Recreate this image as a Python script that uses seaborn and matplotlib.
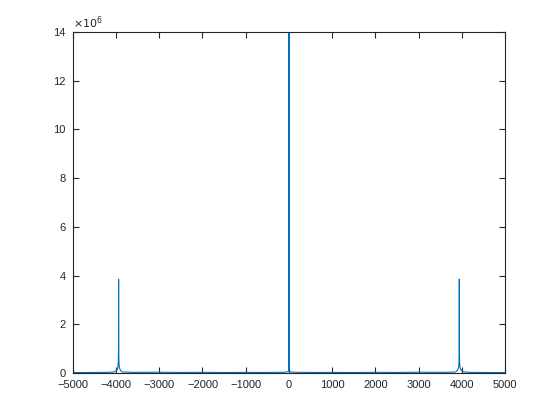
import matplotlib
matplotlib.use("Agg")
import matplotlib.pyplot as plt
import seaborn as sns
import pandas as pd
from matplotlib.ticker import FuncFormatter, MultipleLocator

# Spectrum values (frequency in Hz, magnitude)
freq = [-5000, -4500, -4200, -4050, -3990, -3965, -3955, -3948, -3943, -3940, -3937,
        -3932, -3925, -3915, -3890, -3850, -3600, -3000, -2500, -2000, -1500, -1000,
        -500, -100, -6, 0, 6, 100, 500, 1000, 1500, 2000, 2500, 3000, 3600, 3850,
        3890, 3915, 3925, 3932, 3937, 3940, 3943, 3948, 3955, 3965, 3990, 4050,
        4200, 4500, 5000]
mag = [15000, 20000, 25000, 40000, 90000, 180000, 260000, 420000, 900000, 3850000, 900000,
       420000, 260000, 180000, 90000, 40000, 25000, 30000, 20000, 25000, 18000, 22000,
       20000, 30000, 60000, 14000000, 60000, 30000, 20000, 22000, 18000, 25000, 20000, 30000, 25000, 40000,
       90000, 180000, 260000, 420000, 900000, 3850000, 900000, 420000, 260000, 180000, 90000, 40000,
       25000, 20000, 15000]

df = pd.DataFrame({"f": freq, "m": mag})

sns.set_style("white")
plt.rcParams["font.family"] = ["Liberation Sans", "DejaVu Sans"]

fig = plt.figure(figsize=(5.6, 4.2), dpi=100)
ax = fig.add_axes([0.13, 0.112, 0.772, 0.812])
sns.lineplot(data=df, x="f", y="m", ax=ax, color="#0072BD", linewidth=0.8)

ax.set_xlim(-5000, 5000)
ax.set_ylim(0, 14e6)
ax.xaxis.set_major_locator(MultipleLocator(1000))
ax.yaxis.set_major_locator(MultipleLocator(2e6))
ax.yaxis.set_major_formatter(FuncFormatter(lambda v, p: f"{v/1e6:g}"))
ax.set_xlabel("")
ax.set_ylabel("")

dark = "#262626"
for s in ax.spines.values():
    s.set_visible(True)
    s.set_color(dark)
    s.set_linewidth(0.8)
ax.tick_params(direction="in", length=4, width=0.8, colors=dark, labelsize=8,
               top=True, right=True, bottom=True, left=True)
ax.tick_params(axis="x", pad=5)
ax.tick_params(axis="y", pad=5)

ax.text(0.0, 1.003, r"$\times10^{6}$", transform=ax.transAxes, ha="left", va="bottom",
        fontsize=8, color=dark)

fig.savefig("out.png", dpi=100, facecolor="white")
